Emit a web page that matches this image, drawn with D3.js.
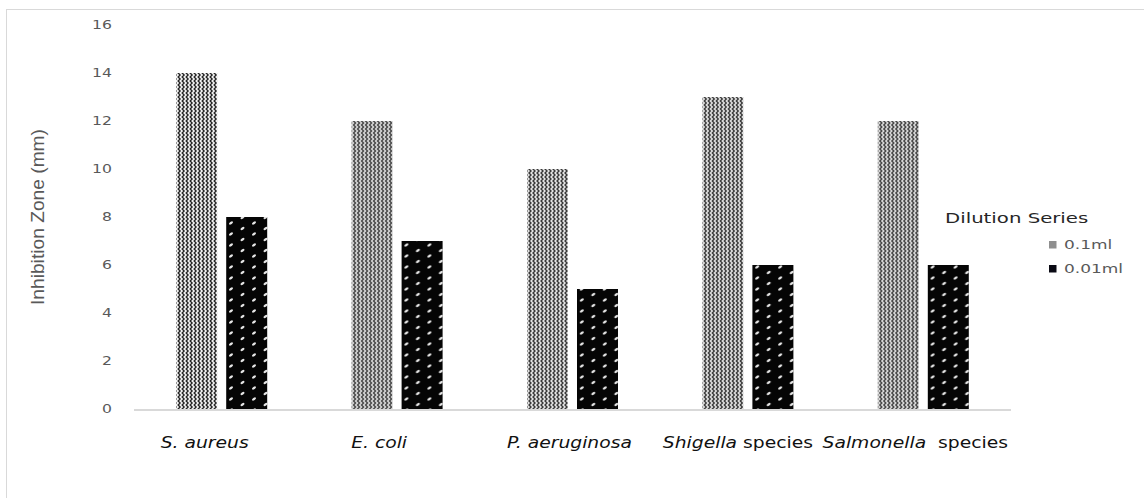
<!DOCTYPE html>
<html>
<head>
<meta charset="utf-8">
<script src="https://cdn.jsdelivr.net/npm/d3@7"></script>
<style>
  html, body { margin: 0; padding: 0; background: #ffffff; }
  svg { display: block; }
</style>
</head>
<body>
<svg id="chart" width="1144" height="498"></svg>
<script>
// Inhibition zone (mm) per organism for two dilution volumes
const genus = ["S. aureus", "E. coli", "P. aeruginosa", "Shigella", "Salmonella"];
const suffix = ["", "", "", " species", "  species"];
const seriesNames = ["0.1ml", "0.01ml"];
const values01 = [14, 12, 10, 13, 12];
const values001 = [8, 7, 5, 6, 6];
const yTicks = [0, 2, 4, 6, 8, 10, 12, 14, 16];
const legendTitle = "Dilution Series";
const yTitle = "Inhibition Zone (mm)";

const categories = genus.map((g, i) => g + suffix[i]);
const rows = categories.map((c, i) => ({ cat: c, vals: [values01[i], values001[i]] }));

const svg = d3.select("#chart");
const plotLeft = 134, plotRight = 1011, plotTop = 25, plotBottom = 409;
const stretch = 1.36;
// horizontal nudge of each category label relative to its band centre
const labelNudge = [-17, -18, -3, -10, -8];

// chart frame
svg.append("rect")
  .attr("x", 6.5).attr("y", 9.5)
  .attr("width", 1150).attr("height", 500)
  .attr("fill", "none").attr("stroke", "#d9d9d9").attr("stroke-width", 1);

// textures
const defs = svg.append("defs");
const stripes = defs.append("pattern")
  .attr("id", "pat-stripes").attr("patternUnits", "userSpaceOnUse")
  .attr("width", 4).attr("height", 4);
const stripeCols = [["#262626", "#7a7a7a", "#f2f2f2", "#b0b0b0"], ["#b0b0b0", "#262626", "#7a7a7a", "#f2f2f2"]];
stripeCols.forEach((cols, r) => {
  cols.forEach((c, k) => {
    stripes.append("rect").attr("x", k).attr("y", r * 2).attr("width", 1).attr("height", 2).attr("fill", c);
  });
});

const confetti = defs.append("pattern")
  .attr("id", "pat-confetti").attr("patternUnits", "userSpaceOnUse")
  .attr("width", 23).attr("height", 11).attr("x", 1).attr("y", 0);
confetti.append("rect").attr("width", 23).attr("height", 11).attr("fill", "#050505");
[[4, 3], [15.5, 8.5], [27, 3], [-7.5, 8.5]].forEach(([cx, cy]) => {
  confetti.append("ellipse")
    .attr("cx", cx).attr("cy", cy).attr("rx", 2.3).attr("ry", 1.2)
    .attr("transform", `rotate(-35 ${cx} ${cy})`)
    .attr("fill", "#e6e6e6");
});
const fills = ["url(#pat-stripes)", "url(#pat-confetti)"];

// scales
const x0 = d3.scaleBand().domain(categories).range([plotLeft, plotRight]).paddingInner(0).paddingOuter(0);
const bw = x0.bandwidth();
const x1 = d3.scaleBand().domain(seriesNames).range([bw / 2 - 45.5, bw / 2 + 45.5]).paddingInner(0.18);
const y = d3.scaleLinear().domain([0, 16]).range([plotBottom, plotTop]);

// y axis labels
const yAxis = svg.append("g")
  .attr("transform", `translate(${plotLeft},0)`)
  .call(d3.axisLeft(y).tickValues(yTicks).tickSize(0).tickPadding(22));
yAxis.select(".domain").remove();
yAxis.selectAll("text")
  .attr("x", -22 / stretch)
  .attr("transform", `scale(${stretch},1)`)
  .attr("font-family", "DejaVu Sans, Verdana, sans-serif")
  .attr("font-size", 11.5)
  .attr("fill", "#595959");

// bars
const groups = svg.append("g").selectAll("g").data(rows).join("g")
  .attr("transform", d => `translate(${x0(d.cat)},0)`);
groups.selectAll("rect")
  .data(d => d.vals.map((v, i) => ({ key: seriesNames[i], v, i })))
  .join("rect")
  .attr("x", d => x1(d.key))
  .attr("width", x1.bandwidth())
  .attr("y", d => y(d.v))
  .attr("height", d => y(0) - y(d.v))
  .attr("fill", d => fills[d.i]);

// baseline
svg.append("line")
  .attr("x1", plotLeft).attr("x2", plotRight)
  .attr("y1", y(0) + 1).attr("y2", y(0) + 1)
  .attr("stroke", "#d9d9d9").attr("stroke-width", 2);

// category labels
const catLabels = svg.append("g").selectAll("text").data(categories).join("text")
  .attr("transform", (d, i) => `translate(${x0(d) + bw / 2 + labelNudge[i]},448) scale(1.25,1)`)
  .attr("text-anchor", "middle")
  .attr("font-family", "DejaVu Sans, Verdana, sans-serif")
  .attr("font-size", 15)
  .attr("fill", "#111");
catLabels.each(function (d, i) {
  const t = d3.select(this);
  t.append("tspan").attr("font-style", "italic").text(genus[i]);
  if (suffix[i]) t.append("tspan").attr("font-style", "normal").style("white-space", "pre").text(suffix[i]);
});

// y axis title
svg.append("text")
  .attr("transform", "translate(44,217) rotate(-90)")
  .attr("text-anchor", "middle")
  .attr("font-family", "Liberation Sans Narrow, Liberation Sans, Arial Narrow, sans-serif")
  .attr("font-size", 19)
  .attr("textLength", 176)
  .attr("lengthAdjust", "spacingAndGlyphs")
  .attr("fill", "#595959")
  .text(yTitle);

// legend
svg.append("text")
  .attr("transform", `translate(945,223) scale(${stretch},1)`)
  .attr("font-family", "DejaVu Sans, Verdana, sans-serif")
  .attr("font-size", 14.5)
  .attr("fill", "#262626")
  .text(legendTitle);
const legendItems = svg.append("g").selectAll("g").data(seriesNames).join("g")
  .attr("transform", (d, i) => `translate(1049,${241 + i * 24})`);
legendItems.append("rect")
  .attr("width", 7.5).attr("height", 7.5)
  .attr("fill", (d, i) => i === 0 ? "#8f8f8f" : "#0a0a14");
legendItems.append("text")
  .attr("transform", `translate(15,4) scale(${stretch},1)`)
  .attr("dy", "0.35em")
  .attr("font-family", "DejaVu Sans, Verdana, sans-serif")
  .attr("font-size", 12.5)
  .attr("fill", "#595959")
  .text(d => d);
</script>
</body>
</html>
